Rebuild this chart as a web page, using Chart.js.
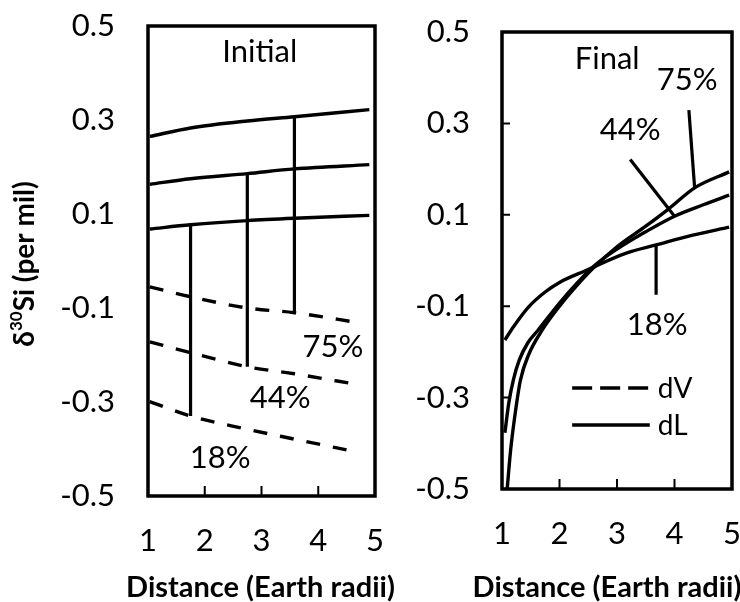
<!DOCTYPE html>
<html>
<head>
<meta charset="utf-8">
<script src="https://cdn.jsdelivr.net/npm/chart.js@4.4.1/dist/chart.umd.min.js"></script>
<style>
  body { margin: 0; background: #fff; overflow: hidden; }
  #left { position: absolute; left: 0; top: 0; }
  #right { position: absolute; left: 380px; top: 0; }
</style>
</head>
<body>
<canvas id="left" width="400" height="602"></canvas>
<canvas id="right" width="360" height="602"></canvas>
<script>
// Initial state (left panel): dL solid, dV dashed, for 18%, 44%, 75%
const initSolidX = [1.03, 1.75, 2.75, 3.58, 4.9];
const initSolid18 = [0.068, 0.077, 0.086, 0.091, 0.097];
const initSolid44 = [0.163, 0.175, 0.186, 0.196, 0.205];
const initSolid75 = [0.265, 0.283, 0.298, 0.307, 0.322];
const initDashX = [1.03, 1.75, 2.75, 3.58, 4.7];
const initDash18 = [-0.299, -0.330, -0.358, -0.379, -0.407];
const initDash44 = [-0.172, -0.195, -0.225, -0.240, -0.263];
const initDash75 = [-0.055, -0.076, -0.100, -0.110, -0.131];

// Final state (right panel): dL only
const fin18X = [1.05, 1.2, 1.46, 1.75, 2.0, 2.46, 3.16, 3.68, 4.3, 4.95];
const fin18 = [-0.174, -0.145, -0.102, -0.069, -0.048, -0.022, 0.016, 0.034, 0.055, 0.073];
const fin44X = [1.05, 1.12, 1.2, 1.3, 1.45, 1.63, 2.0, 2.3, 2.6, 3.0, 3.5, 4.0, 4.5, 4.95];
const fin44 = [-0.377, -0.31, -0.26, -0.218, -0.18, -0.152, -0.093, -0.05, -0.012, 0.025, 0.063, 0.097, 0.122, 0.143];
const fin75X = [1.09, 1.15, 1.23, 1.32, 1.46, 1.7, 2.0, 2.3, 2.6, 3.0, 3.5, 3.9, 4.35, 4.95];
const fin75 = [-0.5, -0.415, -0.334, -0.262, -0.207, -0.152, -0.1, -0.055, -0.015, 0.03, 0.075, 0.113, 0.159, 0.194];

// label pointer lines in the final panel
const lead18X = [3.68, 3.68], lead18Y = [0.034, -0.075];
const lead44X = [3.23, 4.0], lead44Y = [0.221, 0.097];
const lead75X = [4.25, 4.35], lead75Y = [0.329, 0.159];

const xTicks = [1, 2, 3, 4, 5];

Chart.defaults.font.family = 'Lato';
Chart.defaults.color = '#000';

function pts(xs, ys) {
    return xs.map((x, i) => ({ x: x, y: ys[i] }));
}

function curve(xs, ys, dashed) {
    return {
        data: pts(xs, ys),
        borderColor: '#000',
        borderWidth: 3.4,
        borderDash: dashed ? [14, 13] : [],
        pointRadius: 0,
        cubicInterpolationMode: 'monotone',
        fill: false
    };
}

function segment(xs, ys) {
    return {
        data: pts(xs, ys),
        borderColor: '#000',
        borderWidth: 3.2,
        pointRadius: 0,
        tension: 0,
        fill: false
    };
}

// box, inner ticks, annotations, legend, axis titles
const framePlugin = {
    id: 'frame',
    afterDatasetsDraw(chart, args, opts) {
        const ctx = chart.ctx;
        const a = chart.chartArea;
        const x = chart.scales.x, y = chart.scales.y;
        ctx.save();
        ctx.strokeStyle = '#000';
        ctx.lineWidth = 3.5;
        ctx.strokeRect(a.left, a.top, a.right - a.left, a.bottom - a.top);

        ctx.lineWidth = 2;
        ctx.beginPath();
        x.ticks.forEach(t => {
            if (t.value > x.min && t.value < x.max) {
                const px = x.getPixelForValue(t.value);
                ctx.moveTo(px, a.bottom);
                ctx.lineTo(px, a.bottom - 10);
            }
        });
        if (opts.yTicks) {
            y.ticks.forEach(t => {
                if (t.value > y.min && t.value < y.max) {
                    const py = y.getPixelForValue(t.value);
                    ctx.moveTo(a.left, py);
                    ctx.lineTo(a.left + 8, py);
                }
            });
        }
        ctx.stroke();

        ctx.fillStyle = '#000';
        ctx.font = '31px Lato';
        ctx.textAlign = 'center';
        ctx.textBaseline = 'middle';
        opts.labels.forEach(l => {
            ctx.fillText(l.text, x.getPixelForValue(l.x), y.getPixelForValue(l.y));
        });

        // x axis title (no maxWidth squeeze, it is wider than the plot)
        ctx.font = 'bold 29px Lato';
        ctx.fillText('Distance (Earth radii)', (a.left + a.right) / 2 + opts.titleShift, chart.height - 14);

        if (opts.legend) {
            const lg = opts.legend;
            ctx.lineWidth = 3.5;
            ctx.font = '28px Lato';
            ctx.textAlign = 'left';
            lg.items.forEach(it => {
                const py = y.getPixelForValue(it.y);
                ctx.setLineDash(it.dash);
                ctx.beginPath();
                ctx.moveTo(x.getPixelForValue(lg.x0), py);
                ctx.lineTo(x.getPixelForValue(lg.x1), py);
                ctx.stroke();
                ctx.fillText(it.text, x.getPixelForValue(lg.xt), py + 1);
            });
            ctx.setLineDash([]);
        }

        if (opts.yTitle) {
            ctx.translate(25, (a.top + a.bottom) / 2 + 3);
            ctx.rotate(-Math.PI / 2);
            ctx.textAlign = 'left';
            ctx.textBaseline = 'middle';
            const big = 'bold 28px Lato', small = 'bold 17px Lato';
            ctx.font = big;
            const w1 = ctx.measureText('\u03b4').width;
            const w3 = ctx.measureText('Si (per mil)').width;
            ctx.font = small;
            const w2 = ctx.measureText('30').width;
            let cx = -(w1 + w2 + w3) / 2;
            ctx.font = big;
            ctx.fillText('\u03b4', cx, 0);
            cx += w1;
            ctx.font = small;
            ctx.fillText('30', cx, -8);
            cx += w2;
            ctx.font = big;
            ctx.fillText('Si (per mil)', cx, 0);
        }
        ctx.restore();
    }
};

function makeScales(yWidth, xHeight, yPad) {
    return {
        x: {
            type: 'linear',
            min: 1,
            max: 5,
            afterBuildTicks: s => { s.ticks = xTicks.map(v => ({ value: v })); },
            ticks: { padding: 26, font: { size: 31 } },
            grid: { display: false, drawTicks: false },
            border: { display: false },
            title: { display: false },
            afterFit: s => {
                s.height = xHeight;
                s.paddingLeft = 0;
                s.paddingRight = 0;
            }
        },
        y: {
            type: 'linear',
            min: -0.5,
            max: 0.5,
            ticks: { stepSize: 0.2, padding: yPad, font: { size: 31 } },
            grid: { display: false, drawTicks: false },
            border: { display: false },
            afterFit: s => {
                s.width = yWidth;
                s.paddingTop = 0;
                s.paddingBottom = 0;
            }
        }
    };
}

document.addEventListener('DOMContentLoaded', function () {
    // Initial
    new Chart(document.getElementById('left').getContext('2d'), {
        type: 'line',
        data: {
            datasets: [
                curve(initSolidX, initSolid18, false),
                curve(initSolidX, initSolid44, false),
                curve(initSolidX, initSolid75, false),
                curve(initDashX, initDash18, true),
                curve(initDashX, initDash44, true),
                curve(initDashX, initDash75, true),
                segment([initSolidX[1], initDashX[1]], [initSolid18[1], initDash18[1]]),
                segment([initSolidX[2], initDashX[2]], [initSolid44[2], initDash44[2]]),
                segment([initSolidX[3], initDashX[3]], [initSolid75[3], initDash75[3]])
            ]
        },
        options: {
            responsive: false,
            animation: false,
            devicePixelRatio: 1,
            layout: { padding: { top: 26, right: 25, left: 0, bottom: 0 } },
            plugins: {
                legend: { display: false },
                tooltip: { enabled: false },
                frame: {
                    yTicks: false,
                    yTitle: true,
                    titleShift: -1,
                    labels: [
                        { text: 'Initial', x: 2.97, y: 0.445 },
                        { text: '75%', x: 4.26, y: -0.183 },
                        { text: '44%', x: 3.33, y: -0.291 },
                        { text: '18%', x: 2.27, y: -0.419 }
                    ]
                }
            },
            scales: makeScales(148, 106, 33)
        },
        plugins: [framePlugin]
    });

    // Final
    new Chart(document.getElementById('right').getContext('2d'), {
        type: 'line',
        data: {
            datasets: [
                curve(fin18X, fin18, false),
                curve(fin44X, fin44, false),
                curve(fin75X, fin75, false),
                segment(lead18X, lead18Y),
                segment(lead44X, lead44Y),
                segment(lead75X, lead75Y)
            ]
        },
        options: {
            responsive: false,
            animation: false,
            devicePixelRatio: 1,
            layout: { padding: { top: 32, right: 8, left: 0, bottom: 0 } },
            plugins: {
                legend: { display: false },
                tooltip: { enabled: false },
                frame: {
                    yTicks: true,
                    yTitle: false,
                    titleShift: -10,
                    labels: [
                        { text: 'Final', x: 2.83, y: 0.44 },
                        { text: '75%', x: 4.22, y: 0.396 },
                        { text: '44%', x: 3.23, y: 0.286 },
                        { text: '18%', x: 3.70, y: -0.141 }
                    ],
                    legend: {
                        x0: 2.22, x1: 3.57, xt: 3.71,
                        items: [
                            { text: 'dV', y: -0.279, dash: [20, 8] },
                            { text: 'dL', y: -0.36, dash: [] }
                        ]
                    }
                }
            },
            scales: makeScales(122, 113, 32)
        },
        plugins: [framePlugin]
    });
});
</script>
</body>
</html>
